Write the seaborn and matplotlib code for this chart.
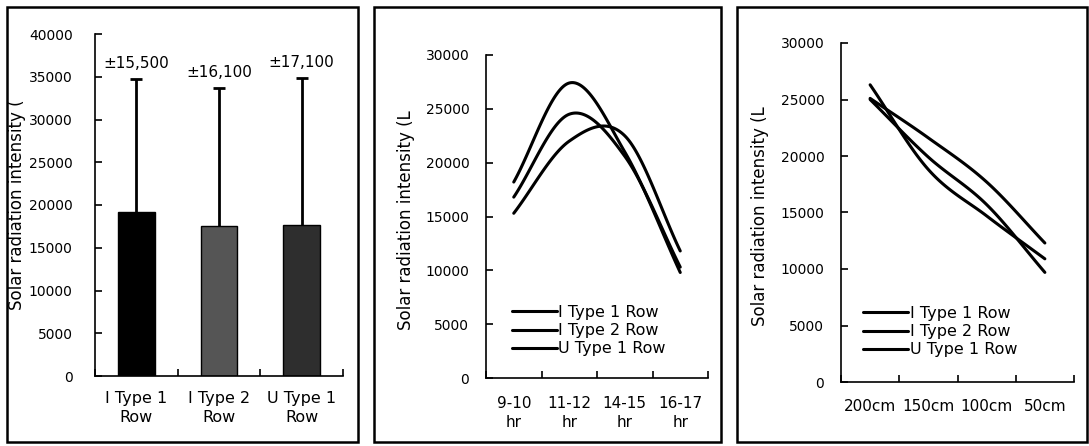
import numpy as np
import pandas as pd
import matplotlib
matplotlib.use("Agg")
import matplotlib.pyplot as plt
from matplotlib.patches import Rectangle
import seaborn as sns

# left panel: mean and sd by planting type
bar_groups = ["I Type 1\nRow", "I Type 2\nRow", "U Type 1\nRow"]
bar_means = [19200, 17600, 17700]
bar_sd = [15500, 16100, 17100]
bar_sd_labels = ["\u00b115,500", "\u00b116,100", "\u00b117,100"]
bar_colors = ["#000000", "#555555", "#2e2e2e"]

series_names = ["I Type 1 Row", "I Type 2 Row", "U Type 1 Row"]

# middle panel: time of day
hours = ["9-10\nhr", "11-12\nhr", "14-15\nhr", "16-17\nhr"]
hour_i1 = [18200, 27400, 21000, 9800]
hour_i2 = [16800, 24500, 20600, 10300]
hour_u1 = [15300, 22000, 22500, 11800]

# right panel: measuring height
heights = ["200cm", "150cm", "100cm", "50cm"]
height_i1 = [25100, 21600, 17700, 12300]
height_i2 = [26300, 18800, 14700, 10900]
height_u1 = [25000, 19900, 15700, 9700]

ylabel_text = "Solar radiation intensity ("


def smooth(y, n=40):
    # hermite curve through the points, like a "smoothed line" in a spreadsheet
    y = np.asarray(y, dtype=float)
    m = np.gradient(y)
    xs, ys = [], []
    for i in range(len(y) - 1):
        t = np.linspace(0, 1, n, endpoint=(i == len(y) - 2))
        h00 = 2 * t**3 - 3 * t**2 + 1
        h10 = t**3 - 2 * t**2 + t
        h01 = -2 * t**3 + 3 * t**2
        h11 = t**3 - t**2
        xs.append(i + t)
        ys.append(h00 * y[i] + h10 * m[i] + h01 * y[i + 1] + h11 * m[i + 1])
    return np.concatenate(xs), np.concatenate(ys)


def style_axis(ax, cats, ymax, xpad, ypad, xsize, spacing):
    n = len(cats)
    ax.set_xlim(-0.5, n - 0.5)
    ax.set_ylim(0, ymax)
    ax.set_yticks(np.arange(0, ymax + 1, 5000))
    ax.set_xticks(np.arange(-0.5, n), labels=[])
    ax.set_xticks(np.arange(n), labels=cats, minor=True)
    ax.tick_params(axis="both", which="major", direction="in", length=5, width=1.2)
    ax.tick_params(axis="y", labelsize=10, pad=ypad)
    ax.tick_params(axis="x", which="minor", length=0, pad=xpad, labelsize=xsize)
    for lbl in ax.get_xticklabels(minor=True):
        lbl.set_linespacing(spacing)
    ax.set_xlabel("")
    sns.despine(ax=ax)
    for sp in ("left", "bottom"):
        ax.spines[sp].set_linewidth(1.2)


def line_panel(ax, cats, values, ymax, label, label_x, leg_x, leg_y, xpad):
    frames = []
    for name, vals in zip(series_names, values):
        xs, ys = smooth(vals)
        frames.append(pd.DataFrame({"x": xs, "y": ys, "series": name}))
    df = pd.concat(frames, ignore_index=True)
    sns.lineplot(data=df, x="x", y="y", hue="series", hue_order=series_names,
                 palette=["black"] * 3, linewidth=2.2, estimator=None,
                 sort=False, legend=False, ax=ax)
    style_axis(ax, cats, ymax, xpad=xpad, ypad=12, xsize=11, spacing=1.3)
    ax.set_ylabel(label, fontsize=12)
    ax.yaxis.set_label_coords(label_x, 0.49)
    ax.legend(ax.lines[:3], series_names, loc="upper left",
              bbox_to_anchor=(leg_x, leg_y), frameon=False, fontsize=11.5,
              borderpad=0, borderaxespad=0, handlelength=2.8,
              handletextpad=0.1, labelspacing=0.2)


sns.set_style("ticks")
plt.rcParams["font.family"] = ["DejaVu Sans"]
plt.rcParams["axes.edgecolor"] = "black"
plt.rcParams["axes.labelcolor"] = "black"
plt.rcParams["text.color"] = "black"
plt.rcParams["xtick.color"] = "black"
plt.rcParams["ytick.color"] = "black"

W, H = 1089, 446
fig = plt.figure(figsize=(W / 100, H / 100), dpi=100)


def px_axes(x0, x1, y_top, y_zero):
    return fig.add_axes([x0 / W, 1 - y_zero / H, (x1 - x0) / W, (y_zero - y_top) / H])


# panel frames
for x0, x1 in [(7, 358), (374, 721), (737, 1087)]:
    fig.add_artist(Rectangle((x0 / W, 4 / H), (x1 - x0) / W, (442 - 7) / H,
                             transform=fig.transFigure, fill=False,
                             edgecolor="black", linewidth=1.8))

# bar panel
ax1 = px_axes(95, 343, 34, 376)
df_bar = pd.DataFrame({"group": bar_groups, "mean": bar_means})
sns.barplot(data=df_bar, x="group", y="mean", hue="group", palette=bar_colors,
            width=0.44, edgecolor="black", linewidth=1, errorbar=None,
            legend=False, ax=ax1)
pos = np.arange(len(bar_groups))
eb = ax1.errorbar(pos, bar_means, yerr=[np.zeros(len(bar_sd)), bar_sd], fmt="none",
                  ecolor="black", elinewidth=2, capsize=4.5, capthick=2)
# only the upper cap is drawn in the original
eb[1][0].set_visible(False)
for i, (m, s, lbl) in enumerate(zip(bar_means, bar_sd, bar_sd_labels)):
    ax1.annotate(lbl, (i, m + s), xytext=(0, 6), textcoords="offset points",
                 ha="center", va="bottom", fontsize=11)
style_axis(ax1, bar_groups, 40000, xpad=11, ypad=16, xsize=11.5, spacing=1.35)
ax1.set_ylabel(ylabel_text, fontsize=12)
ax1.yaxis.set_label_coords(-0.278, 0.5)

# time of day panel
ax2 = px_axes(486, 708, 55, 378)
line_panel(ax2, hours, [hour_i1, hour_i2, hour_u1], 30000, ylabel_text + "L",
           -0.32, 0.117, 0.226, xpad=13)

# height panel
ax3 = px_axes(841, 1074, 43, 382)
line_panel(ax3, heights, [height_i1, height_i2, height_u1], 30000, ylabel_text + "L",
           -0.31, 0.096, 0.224, xpad=12)

fig.savefig("out.png", dpi=100)
